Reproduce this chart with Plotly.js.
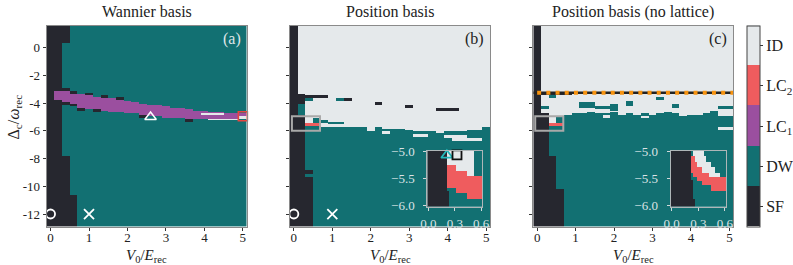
<!DOCTYPE html>
<html><head><meta charset="utf-8">
<script src="https://cdn.plot.ly/plotly-3.0.1.min.js"></script>
<style>html,body{margin:0;padding:0;background:#fff;}#chart{width:793px;height:265px;}</style>
</head><body><div id="chart"></div>
<script>
// ---------- phase codes / legend ----------
const SF = 0, DW = 1, LC1 = 2, LC2 = 3, ID = 4;
const phaseNames = ['SF', 'DW', 'LC<sub>1</sub>', 'LC<sub>2</sub>', 'ID'];
const phaseColors = ['#26272f', '#127072', '#9b4f9f', '#ef5c5e', '#e5e9eb'];

// ---------- axes values ----------
const V0 = [0, 0.2, 0.4, 0.6, 0.8, 1, 1.2, 1.4, 1.6, 1.8, 2, 2.2, 2.4, 2.6, 2.8, 3, 3.2, 3.4, 3.6, 3.8, 4, 4.2, 4.4, 4.6, 4.8, 5];
const xTicks = [0, 1, 2, 3, 4, 5];
const yTicks = [0, -2, -4, -6, -8, -10, -12];
const yTickText = ['0', '-2', '-4', '-6', '-8', '-10', '-12'];
const insetXTicks = [0, 0.3, 0.6], insetXText = ['0.0', '0.3', '0.6'];
const insetYTicks = [-5, -5.5, -6], insetYText = ['\u22125.0', '\u22125.5', '\u22126.0'];

// ---------- panel (a): Wannier basis ----------
// SF region: [V0 from, V0 to, Delta top, Delta bottom]
const sfA = [[0, 0.4, 1.6, 0.4], [0, 0.2, 0.3, -7.8], [0, 0.4, -7.9, -10.6], [0, 0.6, -10.7, -12.9]];
// LC1 band, per V0 = 0.2 ... 5.0
const lc1Top = [-3.2, -3.2, -3.4, -3.4, -3.5, -3.6, -3.7, -3.7, -3.8, -3.9, -4.0, -4.1, -4.2, -4.2, -4.3, -4.4, -4.4, -4.5, -4.6, -4.6, -4.7, -4.7, -4.8, -4.8, -4.8];
const lc1Bot = [-3.7, -3.9, -4.0, -4.3, -4.4, -4.4, -4.5, -4.6, -4.6, -4.7, -4.7, -4.8, -4.9, -4.9, -5.0, -5.0, -5.0, -5.1, -5.1, -5.1, -5.2, -5.2, -5.2, -5.2, -4.9];
// isolated cells [phase, V0 from, V0 to, Delta top, Delta bottom]
const extraA = [
  [SF, 0.4, 0.4, -3.0, -3.1], [SF, 0.6, 0.6, -3.2, -3.3], [SF, 1.0, 1.0, -3.3, -3.4],
  [SF, 1.4, 1.4, -3.5, -3.6], [SF, 1.8, 1.8, -3.6, -3.7],
  [SF, 0.4, 0.4, -4.0, -4.1], [SF, 0.6, 0.6, -4.1, -4.2], [SF, 0.8, 0.8, -4.4, -4.5],
  [SF, 1.2, 1.2, -4.5, -4.6], [SF, 2.4, 2.4, -4.9, -5.0], [SF, 3.6, 3.6, -5.2, -5.3],
  [ID, 4.0, 4.4, -4.8, -4.8], [ID, 4.2, 4.8, -5.2, -5.2], [ID, 5.0, 5.0, -5.0, -5.1]
];

// ---------- panel (b): Position basis ----------
// top of DW region per V0 = 0.4 ... 5.0
const dwTopB = [-5.7, -5.7, -5.8, -5.8, -5.8, -5.8, -5.8, -5.8, -6.1, -5.8, -5.9, -5.9, -5.9, -6.0, -6.1, -6.1, -6.1, -6.2, -6.1, -6.1, -6.1, -6.0, -6.0, -5.8];
const sfB = [[0, 0, 1.6, -12.9], [0.2, 0.2, -3.4, -12.9], [0.4, 0.4, -8.9, -9.1], [0.4, 0.4, -9.4, -12.9]];
const extraB = [
  [SF, 0.4, 0.8, -3.5, -3.6], [DW, 0.4, 0.4, -3.7, -3.8],
  [DW, 1.2, 1.2, -3.7, -3.8], [SF, 1.4, 1.4, -3.7, -3.8],
  [SF, 2.2, 2.2, -4.0, -4.1], [SF, 3.0, 3.0, -4.2, -4.3], [SF, 3.8, 4.2, -4.4, -4.5],
  [DW, 0.2, 0.2, -4.1, -4.8],
  [DW, 0.6, 0.6, -5.1, -5.4], [DW, 0.8, 0.8, -5.3, -5.4], [DW, 1.0, 1.2, -5.4, -5.5],
  [LC2, 0.4, 0.6, -5.5, -5.6],
  [ID, 2.4, 2.4, -6.1, -6.2], [ID, 3.2, 3.4, -6.3, -6.4], [ID, 4.0, 4.4, -6.4, -6.5], [ID, 4.2, 4.8, -6.6, -6.7]
];

// ---------- panel (c): Position basis (no lattice) ----------
const dwTopC = [-5.7, -5.7, -4.9, -4.8, -4.8, -4.7, -4.8, -4.8, -4.7, -4.9, -4.8, -4.9, -4.8, -4.9, -4.8, -4.7, -4.8, -4.9, -4.9, -4.9, -4.8, -4.6, -5.0, -5.0];
const sfC = [[0, 0, 1.6, -12.9], [0, 0.8, -3.3, -3.4], [0, 0.2, -4.8, -12.9], [0.4, 0.4, -7.9, -12.9], [0.6, 0.6, -10.3, -12.9]];
const extraC = [
  [DW, 0.4, 0.4, -3.5, -3.6], [DW, 3.2, 3.2, -3.6, -3.7], [DW, 0.2, 0.2, -4.3, -4.4],
  [DW, 1.2, 1.4, -4.0, -4.3], [DW, 1.6, 2.0, -4.3, -4.4], [DW, 2.0, 2.0, -4.1, -4.5],
  [DW, 2.4, 2.4, -3.9, -4.2], [DW, 3.6, 3.6, -4.1, -4.3], [DW, 4.8, 5.0, -4.3, -4.4],
  [ID, 1.8, 1.8, -4.9, -5.0], [ID, 2.8, 2.8, -5.0, -5.0], [ID, 3.8, 3.8, -4.9, -4.9], [ID, 4.8, 5.0, -5.8, -5.9],
  [DW, 0.6, 0.6, -5.0, -5.4], [LC2, 0.4, 0.6, -5.5, -5.6]
];
const critLineDelta = -3.25;   // orange dotted line in (c)

// ---------- insets (zoom of V0 0..0.6, Delta -6..-5) ----------
const insetB = [
  [SF, 0, 0.2, -5.0, -5.7], [SF, 0, 0.225, -5.725, -6.0],
  [ID, 0.225, 0.3, -5.0, -5.225], [ID, 0.325, 0.425, -5.0, -5.35], [ID, 0.45, 0.5, -5.0, -5.425],
  [LC2, 0.225, 0.3, -5.25, -5.65], [LC2, 0.325, 0.425, -5.375, -5.75], [LC2, 0.45, 0.6, -5.45, -5.85]
];
const insetC = [
  [SF, 0, 0.2, -5.0, -5.5], [SF, 0, 0.225, -5.525, -5.85], [SF, 0, 0.25, -5.875, -6.0],
  [ID, 0.25, 0.35, -5.0, -5.075],
  [LC2, 0.225, 0.25, -5.1, -5.175], [ID, 0.275, 0.375, -5.1, -5.175],
  [LC2, 0.225, 0.275, -5.2, -5.275], [ID, 0.3, 0.425, -5.2, -5.275],
  [LC2, 0.225, 0.325, -5.3, -5.375], [ID, 0.35, 0.475, -5.3, -5.375],
  [LC2, 0.25, 0.4, -5.4, -5.45], [ID, 0.425, 0.525, -5.4, -5.45],
  [LC2, 0.3, 0.6, -5.475, -5.525], [LC2, 0.35, 0.6, -5.55, -5.6], [LC2, 0.45, 0.6, -5.625, -5.7]
];

// ---------- special points ----------
const ptsA = {circle: [0, -12], cross: [1, -12], tri: [2.6, -5.0], sq: [5.0, -4.95]};
const ptsB = {circle: [0, -12], cross: [1, -12]};
const ptsInB = {tri: [0.21, -5.065], sq: [0.325, -5.06]};
const zoomBox = {v0: [-0.05, 0.68], delta: [-6.0, -4.95]};

// ---------- build grids ----------
function seq(a, b, n) { const r = []; for (let i = 0; i < n; i++) r.push(+(a + (b - a) * i / (n - 1)).toFixed(4)); return r; }
const gridDelta = seq(-12.9, 1.6, 146);
const insetV0 = seq(0, 0.6, 25);
const insetDelta = seq(-6.0, -5.0, 41);

function buildMap(xs, ys, base, patches) {
  const z = ys.map(() => xs.map(() => base));
  const e = 1e-6;
  patches.forEach(([c, x1, x2, y1, y2]) => {
    const xl = Math.min(x1, x2) - e, xh = Math.max(x1, x2) + e, yl = Math.min(y1, y2) - e, yh = Math.max(y1, y2) + e;
    ys.forEach((y, i) => { if (y < yl || y > yh) return; xs.forEach((x, j) => { if (x >= xl && x <= xh) z[i][j] = c; }); });
  });
  return z;
}
const pA = [].concat(
  sfA.map(r => [SF, ...r]),
  V0.slice(1).map((v, i) => [LC1, v, v, lc1Top[i], lc1Bot[i]]),
  extraA);
const pB = [].concat(
  V0.slice(2).map((v, i) => [DW, v, v, dwTopB[i], -12.9]),
  sfB.map(r => [SF, ...r]), extraB);
const pC = [].concat(
  V0.slice(2).map((v, i) => [DW, v, v, dwTopC[i], -12.9]),
  sfC.map(r => [SF, ...r]), extraC);

const zA = buildMap(V0, gridDelta, DW, pA);
const zB = buildMap(V0, gridDelta, ID, pB);
const zC = buildMap(V0, gridDelta, ID, pC);
const zInB = buildMap(insetV0, insetDelta, DW, insetB);
const zInC = buildMap(insetV0, insetDelta, DW, insetC);

// ---------- layout helpers ----------
const W = 793, H = 265;
const fx = p => p / W, fy = p => 1 - p / H;
const cs = [];
phaseColors.forEach((c, i) => { cs.push([i / 5, c]); cs.push([(i + 1) / 5, c]); });
const FONT = 'Liberation Serif, DejaVu Serif, serif';

function hm(x, y, z, xa, ya, show) {
  const t = {type: 'heatmap', x: x, y: y, z: z, xaxis: xa, yaxis: ya, zmin: -0.5, zmax: 4.5,
    colorscale: cs, showscale: !!show, zsmooth: false, hoverinfo: 'skip'};
  if (show) t.colorbar = {x: fx(746.7), xanchor: 'left', y: fy(226.5), yanchor: 'bottom',
    len: (226.5 - 25.5) / H, lenmode: 'fraction', thickness: 12.6, thicknessmode: 'pixels',
    xpad: 0, ypad: 0, outlinewidth: 1, outlinecolor: '#444',
    tickvals: [0, 1, 2, 3, 4], ticktext: phaseNames, ticks: 'outside', ticklen: 3, tickcolor: '#333',
    tickfont: {family: FONT, size: 16, color: '#222'}};
  return t;
}
function pt(p, xa, ya, sym, size, color, lw) {
  return {type: 'scatter', mode: 'markers', x: [p[0]], y: [p[1]], xaxis: xa, yaxis: ya, cliponaxis: false,
    hoverinfo: 'skip', marker: {symbol: sym, size: size, color: color, line: {color: color, width: lw}}};
}

const traces = [
  hm(V0, gridDelta, zA, 'x', 'y', true),
  hm(V0, gridDelta, zB, 'x2', 'y2', false),
  hm(V0, gridDelta, zC, 'x3', 'y3', false),
  pt(ptsA.circle, 'x', 'y', 'circle-open', 9, '#ffffff', 1.8),
  pt(ptsA.cross, 'x', 'y', 'x-thin', 10, '#ffffff', 1.8),
  pt(ptsA.tri, 'x', 'y', 'triangle-up-open', 10, '#ffffff', 1.5),
  pt(ptsA.sq, 'x', 'y', 'square-open', 9, '#e8453f', 1.6),
  pt(ptsB.circle, 'x2', 'y2', 'circle-open', 9, '#ffffff', 1.8),
  pt(ptsB.cross, 'x2', 'y2', 'x-thin', 10, '#ffffff', 1.8),
  {type: 'scatter', mode: 'lines', x: [-0.1, 5.1], y: [critLineDelta, critLineDelta], xaxis: 'x3', yaxis: 'y3',
    line: {color: '#222', width: 2.5}, hoverinfo: 'skip'},
  {type: 'scatter', mode: 'lines', x: [0.0, 5.1], y: [critLineDelta, critLineDelta], xaxis: 'x3', yaxis: 'y3',
    line: {color: '#f7930f', width: 4, dash: '4px,5.2px'}, hoverinfo: 'skip'},
  hm(insetV0, insetDelta, zInB, 'x4', 'y4', false),
  hm(insetV0, insetDelta, zInC, 'x5', 'y5', false),
  pt(ptsInB.tri, 'x4', 'y4', 'triangle-up-open', 10, '#23b9bb', 1.8),
  pt(ptsInB.sq, 'x4', 'y4', 'square-open', 9, '#111111', 1.8)
];

const mainX = dom => ({domain: dom, range: [-0.1, 5.1], tickvals: xTicks, ticktext: xTicks.map(String),
  ticks: 'outside', ticklen: 3, tickcolor: '#333', showline: true, mirror: true, linecolor: '#8a8a8a', linewidth: 1,
  ticklabelstandoff: -4,
  showgrid: false, zeroline: false, tickfont: {family: FONT, size: 13, color: '#222'}, fixedrange: true});
const mainY = (anchor, labels) => ({domain: [fy(226.5), fy(25.5)], anchor: anchor, range: [-12.9, 1.6],
  tickvals: yTicks, ticktext: yTickText, showticklabels: labels,
  ticks: 'outside', ticklen: 3, tickcolor: '#333', showline: true, mirror: true, linecolor: '#8a8a8a', linewidth: 1,
  showgrid: false, zeroline: false, tickfont: {family: FONT, size: 13, color: '#222'}, fixedrange: true});
const inX = (dom, anchor) => ({domain: dom, anchor: anchor, range: [-0.0125, 0.6125], tickvals: insetXTicks, ticktext: insetXText,
  ticks: 'outside', ticklen: 3, tickcolor: '#cfd8da', showline: true, mirror: true, linecolor: '#aeb6b8', linewidth: 1,
  ticklabelstandoff: 2,
  showgrid: false, zeroline: false, tickfont: {family: FONT, size: 13, color: '#dbe3e5'}, fixedrange: true});
const inY = (anchor) => ({domain: [fy(206.5), fy(151)], anchor: anchor, range: [-6.0125, -4.9875], tickvals: insetYTicks, ticktext: insetYText,
  ticks: 'outside', ticklen: 3, tickcolor: '#cfd8da', showline: true, mirror: true, linecolor: '#aeb6b8', linewidth: 1,
  ticklabelstandoff: 6,
  showgrid: false, zeroline: false, tickfont: {family: FONT, size: 13, color: '#dbe3e5'}, fixedrange: true});

const xa = Object.assign(mainX([fx(46.7), fx(246.7)]), {anchor: 'y'});
const xb = Object.assign(mainX([fx(290), fx(490)]), {anchor: 'y2'});
const xc = Object.assign(mainX([fx(533.3), fx(733.3)]), {anchor: 'y3'});

const ann = (text, x, y, size, color, extra) => Object.assign({text: text, x: x, y: y, xref: 'paper', yref: 'paper',
  xanchor: 'center', yanchor: 'middle', showarrow: false, borderpad: 0, font: {family: FONT, size: size, color: color}}, extra || {});
const xTitle = '<i>V</i><sub>0</sub>/<i>E</i><sub>rec</sub>';

const layout = {
  width: W, height: H, margin: {l: 0, r: 0, t: 0, b: 0, autoexpand: false},
  paper_bgcolor: '#ffffff', plot_bgcolor: '#ffffff', showlegend: false,
  font: {family: FONT, color: '#222'},
  xaxis: xa, yaxis: mainY('x', true),
  xaxis2: xb, yaxis2: mainY('x2', false),
  xaxis3: xc, yaxis3: mainY('x3', false),
  xaxis4: inX([fx(427.3), fx(482.3)], 'y4'), yaxis4: inY('x4'),
  xaxis5: inX([fx(670.5), fx(726)], 'y5'), yaxis5: inY('x5'),
  shapes: ['x2', 'x3'].map((xr, i) => ({type: 'rect', xref: xr, yref: 'y' + (i + 2),
    x0: zoomBox.v0[0], x1: zoomBox.v0[1], y0: zoomBox.delta[0], y1: zoomBox.delta[1],
    line: {color: '#a9a9a9', width: 2}, fillcolor: 'rgba(0,0,0,0)'})),
  annotations: [
    ann('Wannier basis', fx(146.7), fy(12), 16, '#222'),
    ann('Position basis', fx(390), fy(12), 16, '#222'),
    ann('Position basis (no lattice)', fx(633.3), fy(12), 16, '#222'),
    ann('(a)', fx(231.5), fy(39), 16, '#dfe6e8'),
    ann('(b)', fx(474.5), fy(39), 16, '#222'),
    ann('(c)', fx(718), fy(39), 16, '#222'),
    ann(xTitle, fx(146.7), fy(266), 15, '#222', {yanchor: 'bottom'}),
    ann(xTitle, fx(390), fy(266), 15, '#222', {yanchor: 'bottom'}),
    ann(xTitle, fx(633.3), fy(266), 15, '#222', {yanchor: 'bottom'}),
    ann('\u0394<sub>c</sub>/<i>\u03c9</i><sub>rec</sub>', fx(13.5), fy(117), 16, '#222', {textangle: -90})
  ]
};
Plotly.newPlot('chart', traces, layout, {staticPlot: true, displayModeBar: false});
</script></body></html>
